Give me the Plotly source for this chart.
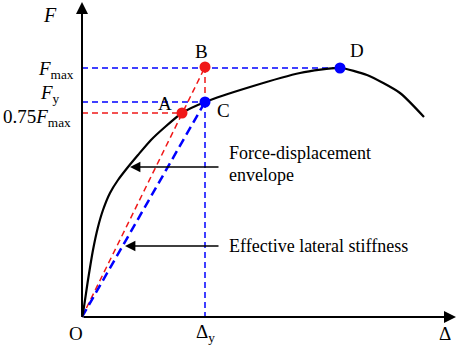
import plotly.graph_objects as go

# Envelope (displacement, force) in arbitrary schematic units
env_disp = [0, 1, 6, 11, 16, 21, 28, 36, 46, 56, 69, 83, 100, 123, 168, 218, 258, 285, 318, 342]
env_force = [0, 4, 37, 67, 90, 107, 124, 137, 150, 162, 177, 190, 204, 215, 230, 244, 249, 242, 224, 200]

point_names = ["A", "B", "C", "D"]
point_disp = [100, 123, 123, 258]
point_force = [204, 250, 215, 249]
point_colors = ["#f01818", "#f01818", "#0000ff", "#0000ff"]

x_ticks = ["O", "Δ<sub>y</sub>", "Δ"]
y_ticks = ["<i>F</i><sub>max</sub>", "<i>F</i><sub>y</sub>", "0.75<i>F</i><sub>max</sub>"]

A = (point_disp[0], point_force[0])
B = (point_disp[1], point_force[1])
C = (point_disp[2], point_force[2])
D = (point_disp[3], point_force[3])
RED = "#f01818"
BLUE = "#0000ff"
FONT = "Liberation Serif"

fig = go.Figure()

def dline(xs, ys, color, width, dash):
    fig.add_trace(go.Scatter(x=xs, y=ys, mode="lines",
                             line=dict(color=color, width=width, dash=dash),
                             hoverinfo="skip", showlegend=False))

# guide lines
dline([0, D[0]], [D[1], D[1]], BLUE, 1.5, "6px,4px")
dline([0, C[0]], [C[1], C[1]], BLUE, 1.5, "6px,4px")
dline([0, A[0]], [A[1], A[1]], RED, 1.5, "6px,4px")
dline([B[0], C[0]], [B[1], C[1]], RED, 1.5, "6px,4px")
dline([C[0], C[0]], [C[1], 0], BLUE, 1.5, "6px,4px")
dline([0, B[0]], [0, B[1]], RED, 1.5, "6px,4px")
dline([0, C[0]], [0, C[1]], BLUE, 2.5, "9px,5px")

# envelope
fig.add_trace(go.Scatter(x=env_disp, y=env_force, mode="lines",
                         line=dict(color="black", width=2.2, shape="spline", smoothing=0.6),
                         hoverinfo="skip", showlegend=False))

# points
fig.add_trace(go.Scatter(x=point_disp, y=point_force, mode="markers",
                         marker=dict(color=point_colors, size=11),
                         hoverinfo="skip", showlegend=False))

# axes with arrows
fig.add_annotation(x=374, y=0, ax=0, ay=0, xref="x", yref="y", axref="x", ayref="y",
                   showarrow=True, arrowhead=2, arrowsize=1.2, arrowwidth=2, arrowcolor="black", text="")
fig.add_annotation(x=0, y=315, ax=0, ay=0, xref="x", yref="y", axref="x", ayref="y",
                   showarrow=True, arrowhead=2, arrowsize=1.2, arrowwidth=2, arrowcolor="black", text="")

def label(x, y, text, xanchor="center", size=18):
    fig.add_annotation(x=x, y=y, text=text, showarrow=False, xref="x", yref="y",
                       xanchor=xanchor, yanchor="middle",
                       font=dict(family=FONT, size=size, color="black"))

# point labels
label(A[0] - 17, A[1] + 10, point_names[0], size=19)
label(B[0] - 4, B[1] + 16, point_names[1], size=19)
label(C[0] + 18, C[1] - 8, point_names[2], size=19)
label(D[0] + 17, D[1] + 18, point_names[3], size=19)

# axis labels
label(-32, 302, "<i>F</i>", size=20)
label(-6, D[1] - 2, y_ticks[0], xanchor="right", size=19)
label(-32, C[1] + 8, y_ticks[1], size=19)
label(-9, A[1] - 5, y_ticks[2], xanchor="right", size=19)
label(-6, -16, x_ticks[0], size=19)
label(C[0], -16, x_ticks[1], size=19)
label(363, -16, x_ticks[2], size=19)

# annotated arrows
def arrow(x_tip, y, x_tail):
    fig.add_annotation(x=x_tip, y=y, ax=x_tail, ay=y, xref="x", yref="y", axref="x", ayref="y",
                       showarrow=True, arrowhead=2, arrowsize=1.3, arrowwidth=1.6,
                       arrowcolor="black", text="")

arrow(48, 150, 138)
arrow(43, 71, 138)
label(145, 164, "Force-displacement", xanchor="left")
label(145, 142, "envelope", xanchor="left")
label(145, 71, "Effective lateral stiffness", xanchor="left")

fig.update_layout(
    width=457, height=345,
    margin=dict(l=0, r=0, t=0, b=0),
    plot_bgcolor="white", paper_bgcolor="white",
    xaxis=dict(range=[-82, 375], visible=False, fixedrange=True),
    yaxis=dict(range=[-28, 317], visible=False, fixedrange=True),
)

fig.write_html("out.html", config={"displayModeBar": False},
               post_script="document.body.style.margin='0';document.body.style.overflow='hidden';")
